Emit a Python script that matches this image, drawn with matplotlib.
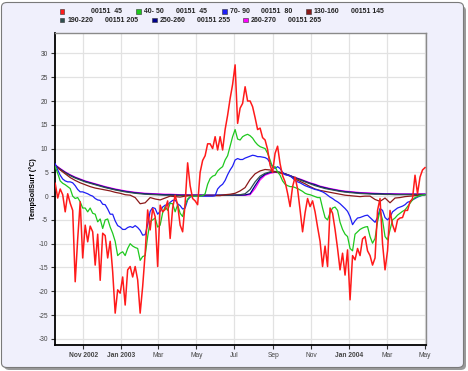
import numpy as np
import pandas as pd
import matplotlib
matplotlib.use("Agg")
import matplotlib.pyplot as plt
from matplotlib.patches import Rectangle, FancyBboxPatch

plt.rcParams["font.family"] = ["Liberation Sans", "DejaVu Sans"]
plt.rcParams["axes.unicode_minus"] = False

# ── data (°C), sampled every 4 days (shallow) / 8 days (deep) ──
red = [2.7, -0.4, 1.5, 0.3, -3.3, 0.5, -1.5, -3.0, -18.0, -9.0,
       -1.2, -13.0, -6.1, -9.6, -6.3, -7.5, -14.5, -8.0, -17.7, -7.8,
       -8.3, -13.0, -9.5, -15.9, -24.6, -19.7, -20.4, -17.0, -22.9, -15.5,
       -14.8, -17.0, -14.8, -17.6, -24.6, -19.0, -12.0, -2.9, -7.1, -2.6,
       -4.3, -14.8, -1.9, -3.3, -2.8, -1.0, -8.9, -2.5, 0.2, -1.9,
       -6.1, -7.5, -1.5, 7.0, 2.2, -0.5, -1.0, -1.8, 5.0, 7.5,
       8.5, 11.0, 11.0, 10.0, 12.5, 9.7, 12.5, 9.7, 14.0, 17.0,
       20.5, 23.5, 27.6, 15.3, 18.5, 19.5, 23.0, 20.0, 20.0, 18.8,
       16.5, 14.0, 14.3, 12.3, 11.8, 9.8, 6.5, 5.0, 9.0, 10.5,
       6.8, 4.3, 3.0, 0.6, -2.2, 2.0, 4.0, 1.5, -2.9, -7.5,
       -3.5, -0.5, -2.2, -1.0, -3.3, -6.5, -9.5, -14.8, -10.5, -14.8,
       -2.5, -3.6, -7.0, -11.0, -15.5, -12.0, -16.6, -11.3, -21.8, -12.5,
       -13.4, -11.0, -12.5, -9.0, -8.5, -11.5, -12.5, -14.5, -13.0, -3.0,
       -0.5, -10.0, -15.5, -11.5, -3.0, -6.0, -7.5, -5.0, -4.6, -4.5,
       -3.0, -3.0, -1.2, -0.5, 4.4, 0.5, 4.0, 5.5, 6.0]

green = [6.2, 4.8, 3.2, 2.7, 2.4, 2.0, 1.6, 0.0, -0.5, -0.3,
         -1.2, -2.5, -2.5, -3.3, -2.5, -3.6, -3.8, -5.4, -4.8, -6.8,
         -5.0, -4.8, -6.5, -7.8, -9.5, -12.5, -12.0, -11.7, -12.5, -11.0,
         -10.0, -10.5, -10.8, -11.0, -13.5, -12.7, -12.5, -8.5, -5.3, -5.0,
         -4.6, -6.5, -6.1, -3.5, -2.2, -3.0, -1.5, -1.6, -3.3, -1.8,
         -3.6, -4.3, -1.9, -0.6, -0.1, 0.0, 0.0, 0.0, 0.0, 0.1,
         0.5, 2.5, 3.7, 4.2, 4.4, 5.3, 5.8, 6.2, 7.6, 8.5,
         10.5, 12.5, 14.0, 12.0, 11.8, 12.5, 12.8, 13.0, 12.7, 12.2,
         11.4, 10.8, 10.4, 10.2, 10.0, 9.0, 7.6, 6.0, 6.2, 5.1,
         4.4, 3.2, 2.5, 2.2, 2.0, 2.0, 1.8, 1.6, 1.3, 1.0,
         0.6, 0.4, 0.3, 0.1, -0.1, -0.3, -0.3, -2.5, -4.5, -5.0,
         -3.5, -2.5, -2.3, -3.0, -5.5, -7.0, -8.0, -8.5, -11.0, -11.5,
         -8.0, -7.5, -7.0, -6.7, -6.5, -6.4, -8.5, -9.9, -8.9, -5.4,
         -3.0, -5.0, -8.5, -9.2, -7.1, -5.0, -4.6, -4.0, -3.6, -3.2,
         -2.9, -2.2, -1.5, -0.8, -0.3, -0.1, 0.1, 0.2, 0.3]

blue = [6.8, 5.5, 4.4, 3.6, 3.2, 3.0, 3.0, 2.8, 2.2, 1.4,
        0.9, 0.9, 0.7, 0.5, 0.2, 0.0, -0.5, -0.8, -0.9, -1.7,
        -1.8, -2.7, -3.8, -3.8, -5.2, -6.2, -6.5, -7.0, -7.0, -6.6,
        -6.4, -6.6, -6.2, -6.6, -7.2, -8.2, -8.1, -6.0, -3.2, -2.4,
        -2.6, -3.8, -3.2, -2.3, -1.9, -1.8, -1.3, -0.9, -0.8, -1.6,
        -2.0, -2.7, -2.5, -0.8, -0.2, 0.0, 0.0, 0.0, 0.0, 0.0,
        0.0, 0.0, 0.0, 0.0, 0.1, 1.5, 2.1, 2.5, 3.3, 4.5,
        5.5, 6.3, 7.6, 7.9, 7.7, 7.7, 8.0, 8.2, 8.4, 8.6,
        8.5, 8.3, 8.3, 8.2, 8.1, 7.8, 7.0, 6.3, 5.8, 6.2,
        5.8, 5.0, 4.5, 4.4, 4.3, 3.8, 3.3, 3.0, 2.8, 2.5,
        2.2, 2.0, 1.8, 1.6, 1.4, 1.3, 1.1, 0.9, 0.6, 0.2,
        -0.2, -0.5, -0.9, -1.2, -1.6, -2.1, -2.6, -3.2, -4.3, -6.0,
        -5.2, -4.6, -4.5, -4.3, -4.1, -4.0, -4.5, -5.0, -5.5, -4.5,
        -2.6, -3.0, -4.5, -5.0, -4.4, -3.3, -2.9, -2.5, -2.3, -2.1,
        -1.8, -1.3, -1.1, -0.8, -0.5, -0.2, 0.0, 0.2, 0.3]

brown = [6.4, 5.5, 4.7, 3.9, 3.3, 2.8, 2.4, 2.0, 1.7, 1.5,
         1.3, 1.1, 0.8, 0.6, 0.3, 0.2, -0.3, -1.6, -1.4, -0.3,
         -0.6, -0.8, -0.4, 0.0, -0.1, -0.2, 0.0, 0.1, 0.1, 0.1,
         0.1, 0.1, 0.1, 0.1, 0.3, 0.4, 0.6, 1.1, 1.8, 3.5,
         4.7, 5.3, 5.6, 5.5, 5.1, 4.9, 4.6, 4.2, 3.6, 3.1,
         2.6, 2.0, 1.5, 1.2, 1.0, 0.8, 0.6, 0.4, 0.2, 0.1,
         0.0, -0.1, 0.0, 0.0, -0.7, -1.1, -0.4, -1.4, -0.4, -0.3,
         -0.1, 0.0, 0.1, 0.2, 0.3]

slate = [6.4, 5.6, 4.9, 4.3, 3.8, 3.4, 3.0, 2.7, 2.4, 2.1,
         1.8, 1.55, 1.3, 1.1, 0.9, 0.75, 0.6, 0.5, 0.4, 0.35,
         0.3, 0.25, 0.2, 0.2, 0.15, 0.15, 0.15, 0.15, 0.15, 0.15,
         0.15, 0.15, 0.15, 0.2, 0.2, 0.2, 0.25, 0.3, 0.5, 1.4,
         3.0, 4.2, 4.8, 5.1, 5.2, 5.0, 4.7, 4.3, 3.8, 3.4,
         3.0, 2.6, 2.2, 1.9, 1.6, 1.4, 1.2, 1.0, 0.85, 0.75,
         0.65, 0.55, 0.5, 0.45, 0.4, 0.4, 0.35, 0.35, 0.3, 0.3,
         0.3, 0.3, 0.3, 0.3, 0.3]

navy = [6.5, 5.7, 5.0, 4.4, 3.9, 3.5, 3.1, 2.8, 2.5, 2.2,
        1.9, 1.65, 1.4, 1.2, 1.0, 0.85, 0.7, 0.6, 0.5, 0.45,
        0.4, 0.35, 0.3, 0.3, 0.25, 0.2, 0.2, 0.2, 0.2, 0.2,
        0.2, 0.2, 0.2, 0.2, 0.2, 0.2, 0.2, 0.2, 0.25, 0.5,
        2.2, 3.8, 4.6, 5.0, 5.1, 5.0, 4.7, 4.3, 3.9, 3.5,
        3.1, 2.7, 2.4, 2.0, 1.75, 1.5, 1.3, 1.1, 0.95, 0.85,
        0.75, 0.65, 0.6, 0.55, 0.5, 0.5, 0.45, 0.45, 0.4, 0.4,
        0.4, 0.4, 0.4, 0.4, 0.4]

magenta = [6.6, 5.8, 5.1, 4.5, 4.0, 3.6, 3.2, 2.9, 2.6, 2.3,
           2.0, 1.75, 1.5, 1.3, 1.1, 0.95, 0.8, 0.7, 0.6, 0.55,
           0.5, 0.45, 0.4, 0.4, 0.35, 0.3, 0.3, 0.25, 0.25, 0.25,
           0.2, 0.2, 0.2, 0.2, 0.2, 0.2, 0.2, 0.2, 0.2, 0.3,
           1.6, 3.4, 4.4, 4.8, 5.0, 4.9, 4.7, 4.3, 3.9, 3.6,
           3.2, 2.8, 2.5, 2.1, 1.85, 1.6, 1.4, 1.2, 1.05, 0.95,
           0.85, 0.75, 0.7, 0.65, 0.6, 0.55, 0.5, 0.5, 0.5, 0.45,
           0.45, 0.45, 0.45, 0.45, 0.45]

dates4 = pd.date_range("2002-09-17", periods=len(red), freq="4D")
dates8 = pd.date_range("2002-09-17", periods=len(brown), freq="8D")

depth_labels = ["", "40- 50", "70- 90", "130-160", "190-220", "250-260", "260-270"]
site_labels = ["00151  45", "00151  45", "00151  80", "00151 145",
               "00151 205", "00151 255", "00151 265"]
colors = ["#FF1A1A", "#1EC81E", "#1E1EF5", "#8B1A1A", "#2F4F4F", "#00008B", "#FF00FF"]

tick_dates = pd.to_datetime(["2002-11-01", "2003-01-01", "2003-03-01", "2003-05-01",
                             "2003-07-01", "2003-09-01", "2003-11-01", "2004-01-01",
                             "2004-03-01", "2004-05-01"])
tick_labels = ["Nov 2002", "Jan 2003", "Mar", "May", "Jul", "Sep", "Nov",
               "Jan 2004", "Mar", "May"]

W, H = 468, 371
fig = plt.figure(figsize=(W / 100, H / 100), dpi=100)
fig.patch.set_facecolor("white")

# outer rounded panel with a soft shadow
shadow = FancyBboxPatch((4 / W, 1 / H), 462 / W, 364 / H,
                        boxstyle="round,pad=0,rounding_size=0.012",
                        transform=fig.transFigure, facecolor="#9A9A9A",
                        edgecolor="none", zorder=-3)
panel = FancyBboxPatch((1.5 / W, 3.5 / H), 462 / W, 365 / H,
                       boxstyle="round,pad=0,rounding_size=0.012",
                       transform=fig.transFigure, facecolor="#F0F0FC",
                       edgecolor="#7A7A7A", linewidth=0.8, zorder=-2)
fig.patches.extend([shadow, panel])

ax = fig.add_axes([55 / W, 1 - 345 / H, 371 / W, 312 / H])
ax.set_facecolor("white")

ax.plot(dates8, magenta, color=colors[6], lw=0.9, zorder=3)
ax.plot(dates8, navy, color=colors[5], lw=0.9, zorder=4)
ax.plot(dates8, slate, color=colors[4], lw=0.9, zorder=4)
ax.plot(dates8, brown, color=colors[3], lw=0.9, zorder=5)
ax.plot(dates4, blue, color=colors[2], lw=0.9, zorder=6)
ax.plot(dates4, green, color=colors[1], lw=0.9, zorder=7)
ax.plot(dates4, red, color=colors[0], lw=1.1, zorder=8)

ax.set_xlim(pd.Timestamp("2002-09-16 16:00"), pd.Timestamp("2004-05-02 14:00"))
ax.set_ylim(-31.3, 34.3)
ax.set_yticks(np.arange(-30, 31, 5))
ax.set_xticks(tick_dates)
ax.set_xticklabels(tick_labels)
for lab in ax.get_xticklabels():
    if len(lab.get_text()) > 4:
        lab.set_fontweight("bold")

ax.grid(True, color="#E2E2E2", lw=0.9)
ax.set_axisbelow(True)
ax.tick_params(axis="both", direction="out", length=3, width=0.8,
               labelsize=4.8, labelcolor="#444444", color="#333333", pad=2)
for side in ["left", "bottom"]:
    ax.spines[side].set_color("black")
    ax.spines[side].set_linewidth(1.3)
for side in ["top", "right"]:
    ax.spines[side].set_color("#8A8A8A")
    ax.spines[side].set_linewidth(1.0)

ax.set_ylabel("TempSoilSurf (°C)", fontsize=5.2, fontweight="bold")
ax.yaxis.set_label_coords(-18 / 371, 0.5)

# legend, drawn as coloured squares and text on the panel
legend_slots = [
    (0, 62, 91), (0, 138, 176), (0, 224, 261), (0, 308, 351),
    (1, 62, 105), (1, 154, 197), (1, 245, 288),
]
row_y = [11.5, 20]
for (row, sx, tx), col, dl, sl in zip(legend_slots, colors, depth_labels, site_labels):
    y = row_y[row]
    fig.patches.append(Rectangle(((sx - 2) / W, 1 - (y + 2.2) / H), 4.5 / W, 4.5 / H,
                                 transform=fig.transFigure, facecolor=col,
                                 edgecolor="#333333", linewidth=0.4))
    if dl:
        fig.text((sx + 6) / W, 1 - y / H, dl, fontsize=5, fontweight="bold",
                 color="#222222", va="center", ha="left")
    fig.text(tx / W, 1 - y / H, sl, fontsize=5, fontweight="bold",
             color="#222222", va="center", ha="left")

fig.savefig("out.png", dpi=100, facecolor=fig.get_facecolor())
